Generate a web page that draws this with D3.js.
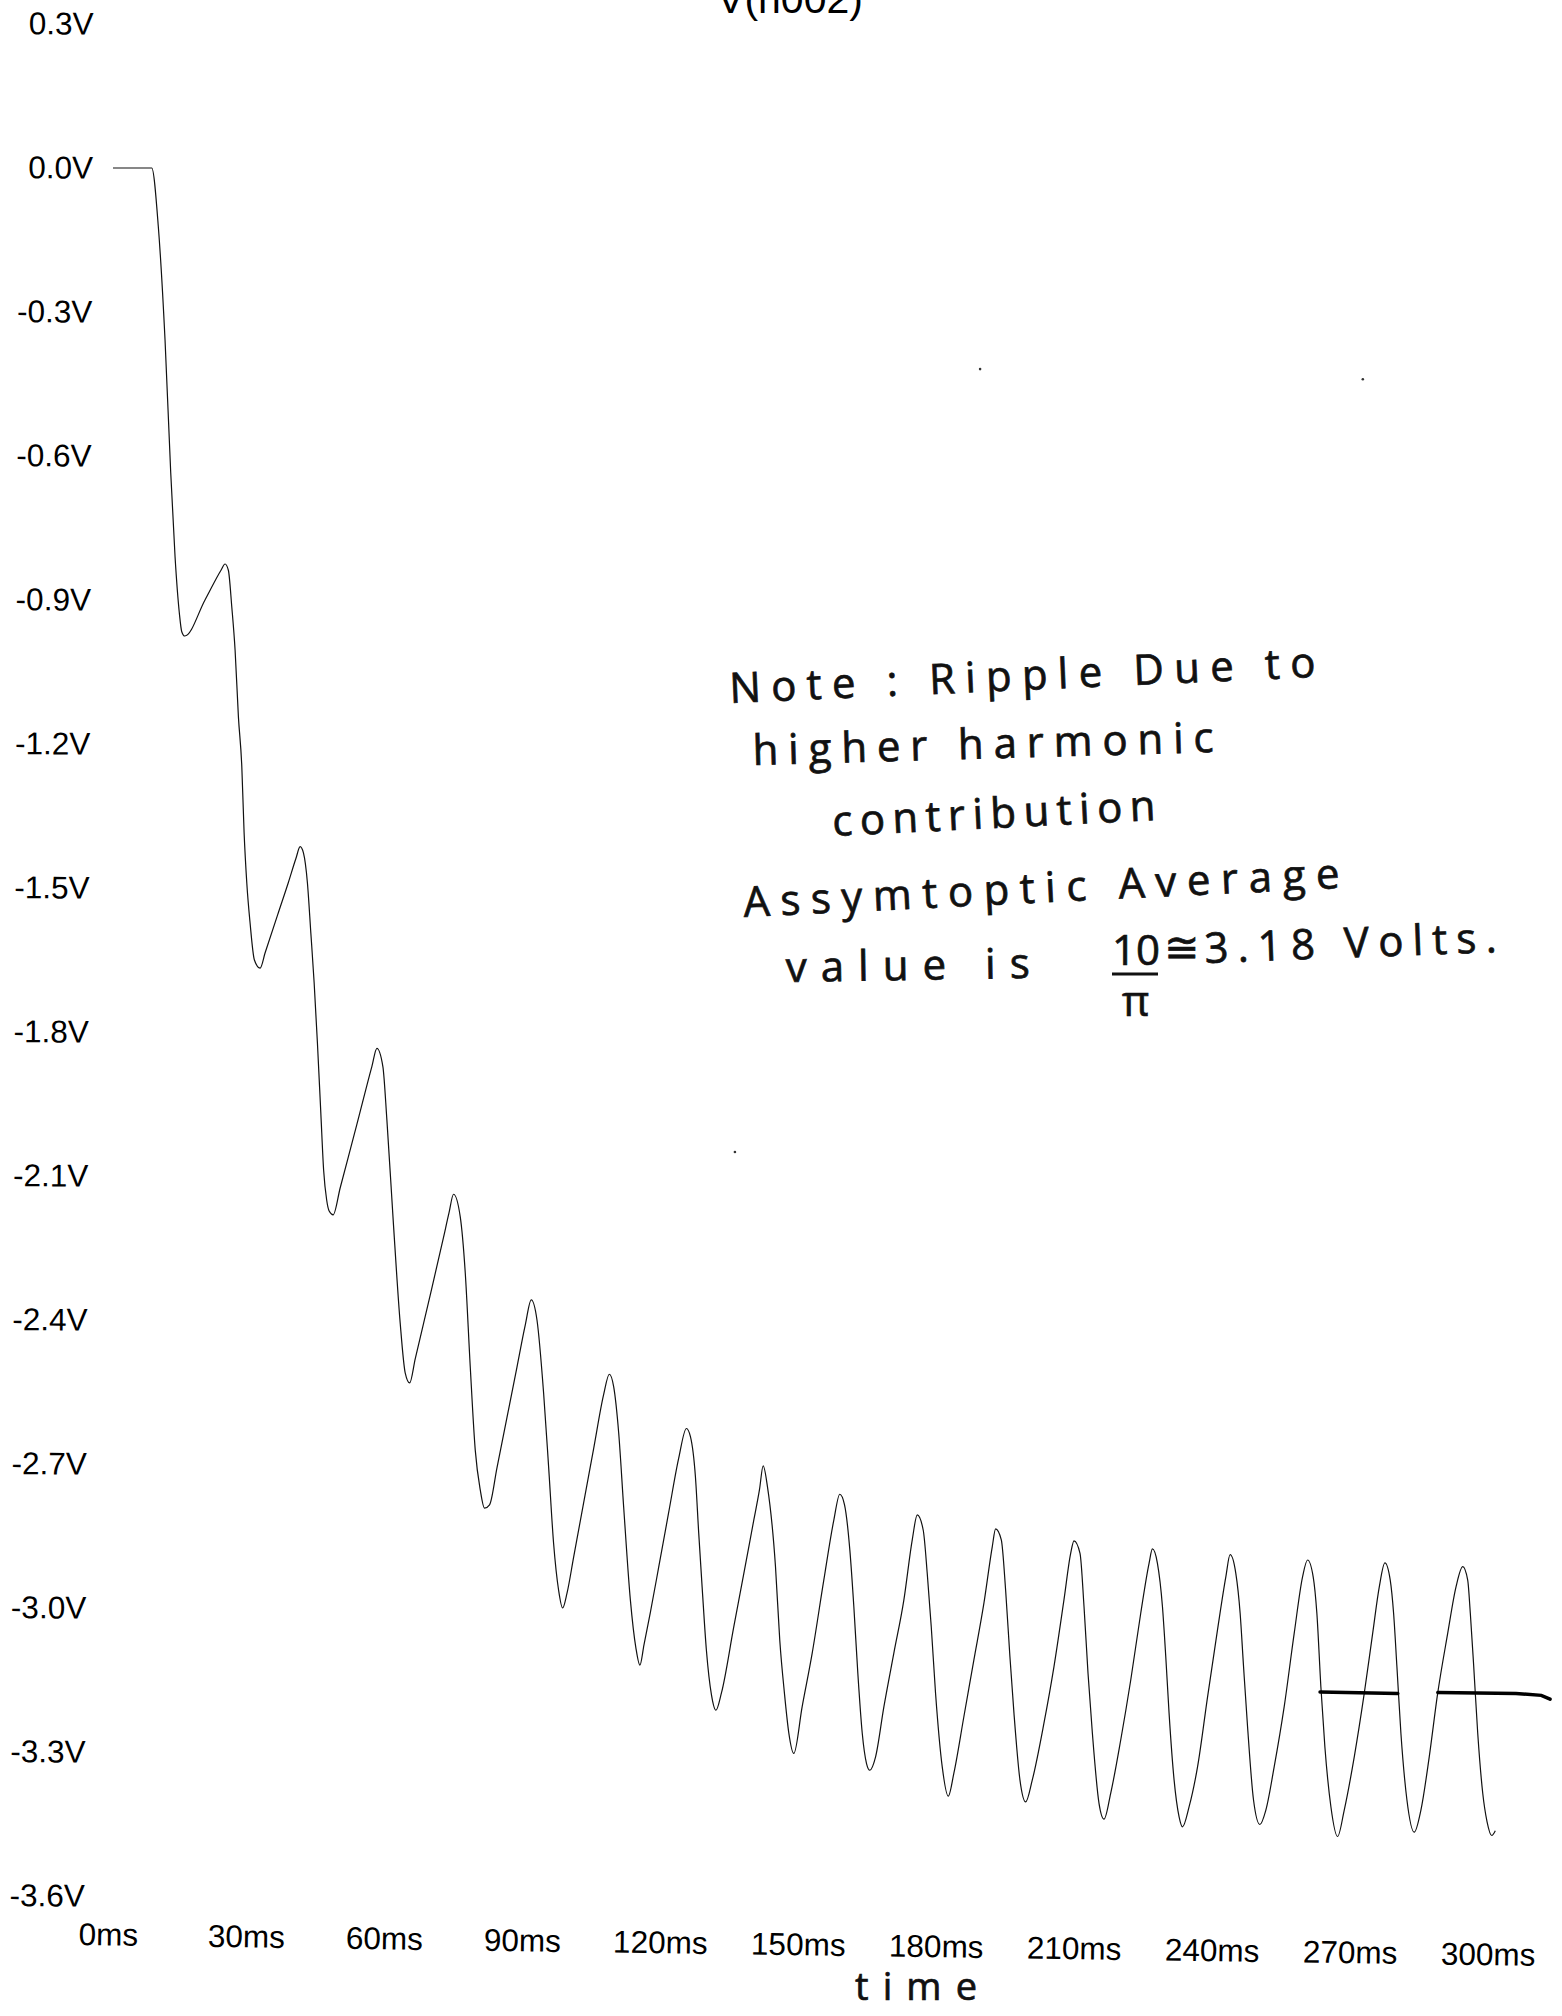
<!DOCTYPE html>
<meta charset="utf-8">
<style>
body { margin: 0; background: #fff; }
svg { display: block; }
.tick text { font-family: "Liberation Sans", Arial, Helvetica, sans-serif; font-size: 31.5px; fill: #000; }
.title { font-family: "Liberation Sans", Arial, Helvetica, sans-serif; font-size: 41px; fill: #000; }
.hand { font-family: "Open Sans", "Noto Sans", "DejaVu Sans", sans-serif; font-weight: 400; font-size: 42px; fill: #111; stroke: #111; stroke-width: 0.7px; }
</style>
<body>
<svg id="svg" width="1562" height="2016"></svg>
<script src="https://cdn.jsdelivr.net/npm/d3@7"></script>
<script>
// V(n002) transient, values (time in ms, volts)
const timeMs = [
  0, 8.42, 9.85, 11.31, 12.55, 13.49, 14.42, 14.95, 15.6, 20.0, 23.48, 24.36,
  25.08, 25.82, 26.54, 27.26, 28.0, 28.5, 29.09, 29.8, 30.74, 31.98,
  33.07, 35.96, 38.14, 39.78, 40.68,
  41.4, 42.27, 43.01, 43.73, 44.44, 45.18, 45.79, 46.45, 46.99, 47.86,
  49.38, 53.0, 56.3, 57.37,
  58.67, 59.54, 60.91, 62.43, 63.52, 64.5,
  65.7, 68.96, 71.85, 73.04, 74.03,
  75.49, 76.58, 77.66, 78.75, 79.84, 80.77,
  81.86, 83.47, 85.65, 87.82, 89.63, 90.93,
  92.17, 93.61, 94.7, 95.78, 96.87, 97.74,
  98.7, 100.14, 102.31, 104.49, 106.67, 107.9,
  108.84, 109.93, 111.01, 112.47, 113.67, 114.54,
  115.43, 116.82, 118.63, 120.8, 122.98, 124.66,
  125.53, 126.61, 127.33, 128.07, 129.0, 130.1, 131.07,
  132.27, 134.94, 137.12, 139.3, 140.53, 141.34,
  142.27, 144.02, 144.95, 145.97, 146.91, 148.0,
  149.81, 152.0, 154.52, 156.7, 158.0,
  159.03, 160.18, 161.05, 161.92, 162.88, 163.81, 164.53,
  165.78, 167.58, 169.75, 171.93, 173.75, 174.84,
  176.14, 177.01, 177.88, 178.82, 180.27, 181.58,
  182.8, 184.98, 187.15, 189.33, 191.15, 191.87,
  193.11, 194.05, 194.98, 195.86, 197.16, 198.4,
  199.85, 202.38, 204.56, 206.73, 208.19, 208.91,
  210.22, 211.09, 211.96, 212.91, 214.35, 215.44,
  216.89, 219.07, 221.25, 223.42, 225.23, 225.96,
  227.05, 228.14, 228.86, 229.58, 230.67, 231.76, 232.5,
  233.94, 235.77, 237.95, 240.1, 241.92, 242.85,
  244.09, 245.03, 245.77, 246.64, 247.94, 249.32,
  250.62, 252.43, 254.6, 256.78, 258.6, 259.69,
  260.91, 261.71, 262.58, 263.45, 264.76, 266.21,
  267.66, 269.84, 272.01, 273.84, 275.28, 276.5,
  277.66, 278.39, 279.11, 279.98, 281.29, 282.88,
  284.33, 286.14, 287.97, 290.15, 291.96, 293.42,
  294.5, 295.07, 295.81, 296.68, 297.77, 298.7, 299.73, 300.5
];
const volts = [
  0, 0, -0.122, -0.358, -0.635, -0.81, -0.927, -0.966, -0.975, -0.9, -0.838, -0.825,
  -0.838, -0.914, -1.004, -1.143, -1.247, -1.385, -1.49, -1.573, -1.65, -1.667,
  -1.635, -1.551, -1.488, -1.438, -1.414,
  -1.427, -1.49, -1.594, -1.698, -1.823, -1.969, -2.088, -2.15, -2.173, -2.181,
  -2.125, -1.993, -1.871, -1.834,
  -1.872, -1.983, -2.192, -2.406, -2.51, -2.531,
  -2.481, -2.348, -2.228, -2.177, -2.138,
  -2.185, -2.302, -2.497, -2.671, -2.754, -2.792,
  -2.785, -2.708, -2.603, -2.498, -2.41, -2.358,
  -2.4, -2.552, -2.706, -2.865, -2.963, -3.0,
  -2.969, -2.894, -2.781, -2.668, -2.555, -2.513,
  -2.539, -2.635, -2.789, -2.983, -3.083, -3.119,
  -3.077, -3.009, -2.915, -2.801, -2.688, -2.626,
  -2.643, -2.726, -2.844, -2.956, -3.088, -3.181, -3.213,
  -3.177, -3.04, -2.929, -2.817, -2.754, -2.704,
  -2.747, -2.914, -3.067, -3.178, -3.26, -3.303,
  -3.206, -3.094, -2.942, -2.817, -2.763,
  -2.785, -2.879, -2.997, -3.136, -3.261, -3.324, -3.338,
  -3.31, -3.206, -3.094, -2.983, -2.858, -2.806,
  -2.838, -2.928, -3.039, -3.178, -3.331, -3.392,
  -3.344, -3.226, -3.108, -2.99, -2.872, -2.835,
  -2.858, -2.963, -3.101, -3.219, -3.358, -3.404,
  -3.358, -3.24, -3.122, -2.983, -2.886, -2.86,
  -2.886, -2.997, -3.136, -3.261, -3.407, -3.44,
  -3.386, -3.275, -3.15, -3.011, -2.907, -2.877,
  -2.907, -2.997, -3.101, -3.219, -3.358, -3.435, -3.456,
  -3.414, -3.331, -3.185, -3.046, -2.935, -2.889,
  -2.928, -3.011, -3.122, -3.247, -3.4, -3.451,
  -3.421, -3.331, -3.206, -3.053, -2.935, -2.9,
  -2.935, -3.011, -3.164, -3.289, -3.414, -3.476,
  -3.421, -3.31, -3.178, -3.053, -2.956, -2.906,
  -2.942, -3.011, -3.122, -3.261, -3.4, -3.467,
  -3.421, -3.31, -3.178, -3.053, -2.956, -2.914,
  -2.942, -3.011, -3.122, -3.261, -3.386, -3.445, -3.474, -3.464
];

const timeTicks = [0, 30, 60, 90, 120, 150, 180, 210, 240, 270, 300];
const timeLabels = ["0ms", "30ms", "60ms", "90ms", "120ms", "150ms", "180ms", "210ms", "240ms", "270ms", "300ms"];
const voltTicks = [0.3, 0, -0.3, -0.6, -0.9, -1.2, -1.5, -1.8, -2.1, -2.4, -2.7, -3.0, -3.3, -3.6];
const voltLabels = ["0.3V", "0.0V", "-0.3V", "-0.6V", "-0.9V", "-1.2V", "-1.5V", "-1.8V", "-2.1V", "-2.4V", "-2.7V", "-3.0V", "-3.3V", "-3.6V"];

// hand-drawn average (about -3.18 V), drawn as two pen strokes
const avgTimesA = [262.4, 279.3];
const avgVoltsA = [-3.175, -3.178];
const avgTimesB = [288.0, 305.0, 310.5, 312.4];
const avgVoltsB = [-3.176, -3.178, -3.182, -3.19];

// scan specks
const speckTimes = [135.2, 188.5, 271.7];
const speckVolts = [-2.05, -0.419, -0.44];

const svg = d3.select("#svg");

const x = d3.scaleLinear().domain([0, 300]).range([113, 1493]);
const y = d3.scaleLinear().domain([-3.6, 0.3]).range([1896, 24]);

// y axis: labels only (scan is a little skewed, hence the small rotation)
const gy = svg.append("g")
  .attr("transform", "translate(93,0) rotate(0.27,0," + y(0) + ")")
  .call(d3.axisLeft(y)
    .tickValues(voltTicks)
    .tickSize(0)
    .tickPadding(0)
    .tickFormat((d, i) => voltLabels[i]));
gy.select(".domain").remove();
gy.attr("font-size", null).attr("font-family", null);

// x axis: labels only
const gx = svg.append("g")
  .attr("transform", "translate(-5,1923) rotate(0.82," + x(0) + ",0)")
  .call(d3.axisBottom(x)
    .tickValues(timeTicks)
    .tickSize(0)
    .tickPadding(0)
    .tickFormat((d, i) => timeLabels[i]));
gx.select(".domain").remove();
gx.attr("font-size", null).attr("font-family", null);

// trace name, cut off by the top of the scan
svg.append("text")
  .attr("class", "title")
  .attr("x", 790)
  .attr("y", 13)
  .attr("text-anchor", "middle")
  .text("V(n002)");

// the waveform
const points = timeMs.map((t, i) => [t, volts[i]]);
const line = d3.line()
  .x(d => x(d[0]))
  .y(d => y(d[1]))
  .curve(d3.curveMonotoneX);

svg.append("path")
  .datum(points)
  .attr("fill", "none")
  .attr("stroke", "#111")
  .attr("stroke-width", 1.2)
  .attr("d", line);

// average line by hand
const straight = d3.line().x(d => x(d[0])).y(d => y(d[1]));
[[avgTimesA, avgVoltsA], [avgTimesB, avgVoltsB]].forEach(([ts, vs]) => {
  svg.append("path")
    .datum(ts.map((t, i) => [t, vs[i]]))
    .attr("fill", "none")
    .attr("stroke", "#000")
    .attr("stroke-width", 3.5)
    .attr("stroke-linecap", "round")
    .attr("d", straight);
});

svg.selectAll(".speck")
  .data(speckTimes)
  .enter().append("circle")
    .attr("class", "speck")
    .attr("cx", d => x(d))
    .attr("cy", (d, i) => y(speckVolts[i]))
    .attr("r", 1.3)
    .attr("fill", "#333");

// handwritten note (fit: stretch the spacing to the written width)
const noteLines = [
  { text: "Note : Ripple Due to", x1: 730, y1: 703, x2: 1316, y2: 677, fit: true },
  { text: "higher harmonic", x1: 753, y1: 765, x2: 1214, y2: 752, fit: true },
  { text: "contribution", x1: 833, y1: 836, x2: 1156, y2: 820, fit: true },
  { text: "Assymtoptic Average", x1: 744, y1: 917, x2: 1340, y2: 888, fit: true },
  { text: "value  is", x1: 786, y1: 982, x2: 1030, y2: 978, fit: true },
  { text: "10", x1: 1112, y1: 965, x2: 1156, y2: 965 },
  { text: "\u03C0", x1: 1122, y1: 1016, x2: 1148, y2: 1016 },
  { text: "\u2245", x1: 1164, y1: 962, x2: 1198, y2: 962 },
  { text: "3.18 Volts.", x1: 1205, y1: 963, x2: 1497, y2: 952, fit: true },
  { text: "time", x1: 855, y1: 2000, x2: 977, y2: 2000, fit: true, size: 38 }
];

noteLines.forEach(n => {
  const ang = Math.atan2(n.y2 - n.y1, n.x2 - n.x1) * 180 / Math.PI;
  const len = Math.hypot(n.x2 - n.x1, n.y2 - n.y1);
  const t = svg.append("text")
    .attr("class", "hand")
    .attr("x", n.x1)
    .attr("y", n.y1)
    .attr("transform", "rotate(" + ang + "," + n.x1 + "," + n.y1 + ")")
    .text(n.text);
  if (n.size) t.style("font-size", n.size + "px");
  if (n.fit) t.attr("textLength", len).attr("lengthAdjust", "spacing");
});

// fraction bar under the 10
svg.append("line")
  .attr("x1", 1112).attr("y1", 974)
  .attr("x2", 1158).attr("y2", 974)
  .attr("stroke", "#111")
  .attr("stroke-width", 3);
</script>
</body>
